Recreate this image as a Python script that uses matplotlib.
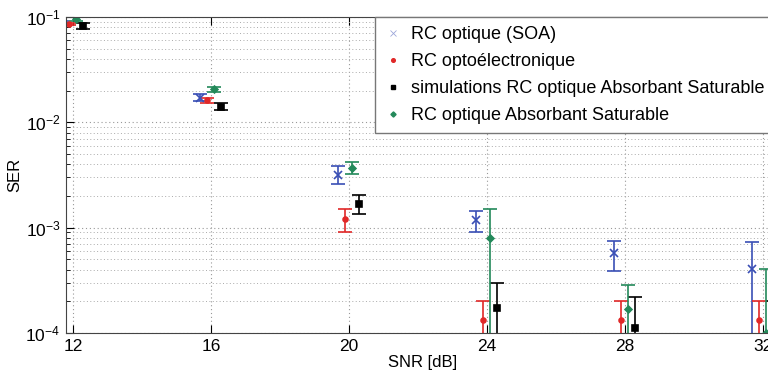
import matplotlib
matplotlib.use("Agg")
import matplotlib.pyplot as plt
import numpy as np

plt.rcParams['font.family'] = ['Liberation Sans', 'DejaVu Sans']
plt.rcParams['mathtext.default'] = 'regular'

snr = [12, 16, 20, 24, 28, 32]

# SER values and error bounds (lower, upper); 1e-5 = bar goes below the axis
soa = [0.0897, 0.0170, 0.00316, 0.00118, 0.000574, 0.000405]
soa_lo = [0.0870, 0.0159, 0.00259, 0.00091, 0.000391, 1e-5]
soa_hi = [0.0925, 0.0186, 0.00385, 0.00144, 0.000749, 0.00073]

opto = [0.0858, 0.0163, 0.00121, 0.000133, 0.000133, 0.000133]
opto_lo = [0.0840, 0.0153, 0.00091, 1e-5, 1e-5, 1e-5]
opto_hi = [0.0876, 0.0170, 0.00150, 0.0002, 0.0002, 0.0002]

sim = [0.082, 0.0140, 0.00168, 0.000172, 0.000111, 0.0001]
sim_lo = [0.0768, 0.0131, 0.00135, 1e-5, 1e-5, 1e-5]
sim_hi = [0.0877, 0.0152, 0.00204, 0.000298, 0.000219, 0.0002]

abs_sat = [0.096, 0.0207, 0.00368, 0.000796, 0.000169, 0.0001]
abs_lo = [0.0920, 0.0194, 0.00323, 1e-5, 1e-5, 1e-5]
abs_hi = [0.1000, 0.0216, 0.00420, 0.00150, 0.000285, 0.000405]

series = [
    ("RC optique (SOA)", soa, soa_lo, soa_hi, -0.32, "#3a4fb5", "x", 6),
    ("RC optoélectronique", opto, opto_lo, opto_hi, -0.12, "#e02828", ".", 7),
    ("simulations RC optique Absorbant Saturable", sim, sim_lo, sim_hi, 0.30, "black", "s", 4.5),
    ("RC optique Absorbant Saturable", abs_sat, abs_lo, abs_hi, 0.09, "#23895a", "D", 3.5),
]

fig = plt.figure(figsize=(7.68, 3.74), dpi=100)
ax = fig.add_axes([66/768, 41/374, 714/768, 316/374])

handles = []
for label, y, lo, hi, dx, col, mk, ms in series:
    y = np.array(y)
    yerr = [y - np.array(lo), np.array(hi) - y]
    ax.errorbar(np.array(snr) + dx, y, yerr=yerr, fmt=mk, color=col, ms=ms,
                capsize=5, elinewidth=1.2, capthick=1.2, mew=1.2)
    h, = ax.plot([], [], linestyle='none', marker=mk, color=col,
                 ms=ms * 0.75 if mk != "x" else 5, mew=0.6 if mk == "x" else 1,
                 alpha=0.5 if mk == "x" else 1)
    handles.append((h, label))

ax.set_yscale('log')
ax.set_ylim(1e-4, 1e-1)
ax.set_xlim(11.8, 32.5)
ax.set_xticks(snr)
ax.set_xticklabels([str(s) for s in snr])

ax.grid(True, which='major', axis='both', linestyle=(0, (1, 2.5)), color='#999999', linewidth=0.8)
ax.grid(True, which='minor', axis='y', linestyle=(0, (1, 2.5)), color='#aaaaaa', linewidth=0.7)
ax.tick_params(which='both', direction='in', top=True, right=True, labelsize=12.5)
ax.tick_params(which='major', length=6, pad=4)
ax.tick_params(which='minor', length=3)
for s in ax.spines.values():
    s.set_color('#444444')

ax.set_xlabel("SNR [dB]", fontsize=12, labelpad=1)
ax.set_ylabel("SER", fontsize=12, labelpad=2)

leg = ax.legend([h for h, _ in handles], [l for _, l in handles],
                loc='upper left', bbox_to_anchor=(0.433, 1.0),
                fontsize=13, frameon=True, fancybox=False, framealpha=1,
                edgecolor='#777777', labelspacing=0.55, handlelength=1.0,
                handletextpad=0.5, borderpad=0.5, borderaxespad=0)
leg.get_frame().set_linewidth(1.0)

fig.savefig("out.png", dpi=100)
